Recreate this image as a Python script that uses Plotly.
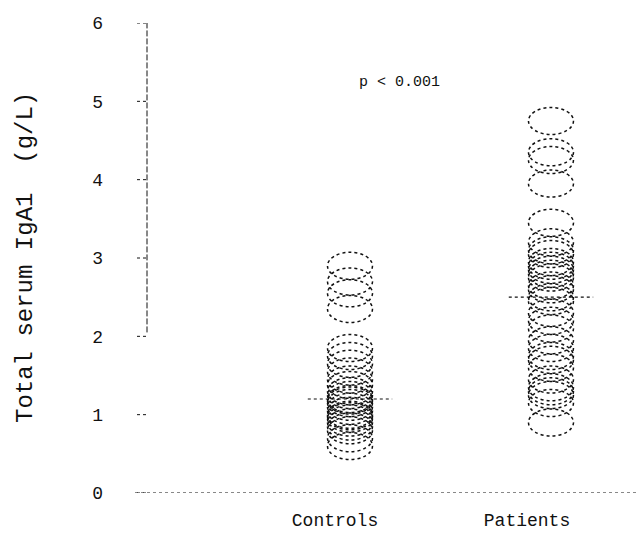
import plotly.graph_objects as go
import numpy as np

# Total serum IgA1 (g/L) per subject
groups = ["Controls", "Patients"]
controls = [2.9, 2.7, 2.55, 2.35, 1.85, 1.75, 1.65, 1.55, 1.45, 1.38, 1.3, 1.25,
            1.2, 1.18, 1.15, 1.1, 1.05, 1.0, 0.98, 0.95, 0.9, 0.85, 0.8, 0.7, 0.6]
patients = [4.75, 4.35, 4.25, 3.95, 3.45, 3.2, 3.1, 3.05, 2.95, 2.9, 2.85, 2.8,
            2.75, 2.65, 2.6, 2.5, 2.45, 2.3, 2.2, 2.1, 1.95, 1.85, 1.75, 1.7,
            1.6, 1.45, 1.35, 1.3, 1.25, 1.15, 0.9]
y_ticks = [0, 1, 2, 3, 4, 5, 6]
p_text = "p < 0.001"

FONT = "Liberation Mono, Courier New, monospace"
INK = "#111111"

# layout geometry (pixels)
W, H = 639, 539
ML, MR, MT, MB = 147, 2, 23, 46
plot_w = W - ML - MR
x_lo, x_hi = -0.01, 2.428
px_per_x = plot_w / (x_hi - x_lo)
px_per_y = (H - MT - MB) / 6.0

ell_rx = 22.5 / px_per_x
ell_ry = 13.5 / px_per_y
med_half = 0.21

fig = go.Figure()
# invisible trace to establish the axes
fig.add_trace(go.Scatter(x=[x_lo, x_hi], y=[0, 6], mode="markers",
                         marker=dict(opacity=0), hoverinfo="skip", showlegend=False))

shapes = []
for gx, vals in zip([1, 2], [controls, patients]):
    for v in vals:
        shapes.append(dict(type="circle", xref="x", yref="y",
                           x0=gx - ell_rx, x1=gx + ell_rx,
                           y0=v - ell_ry, y1=v + ell_ry,
                           line=dict(color=INK, width=1.5, dash="dot")))
    med = float(np.median(vals))
    shapes.append(dict(type="line", xref="x", yref="y",
                       x0=gx - med_half, x1=gx + med_half, y0=med, y1=med,
                       line=dict(color=INK, width=1.2, dash="dot")))

# y axis line (upper part) and dotted baseline
shapes.append(dict(type="line", xref="paper", yref="y", x0=0, x1=0, y0=2.05, y1=6,
                   line=dict(color=INK, width=1, dash="6px,2px")))
shapes.append(dict(type="line", xref="paper", yref="y", x0=-12 / plot_w, x1=1, y0=0, y1=0,
                   line=dict(color=INK, width=1, dash="dot")))
for t in y_ticks:
    shapes.append(dict(type="line", xref="paper", yref="y", x0=-10 / plot_w, x1=0, y0=t, y1=t,
                       line=dict(color=INK, width=1, dash="dot")))

label_x = [1 - 15 / px_per_x, 2 - 24 / px_per_x]

fig.update_layout(
    width=W, height=H,
    margin=dict(l=ML, r=MR, t=MT, b=MB),
    paper_bgcolor="white", plot_bgcolor="white",
    shapes=shapes,
    showlegend=False,
    xaxis=dict(range=[x_lo, x_hi], showgrid=False, zeroline=False, showline=False,
               tickvals=label_x, ticktext=groups, ticks="",
               ticklabelstandoff=14,
               tickfont=dict(family=FONT, size=18, color=INK)),
    yaxis=dict(range=[0, 6], showgrid=False, zeroline=False, showline=False,
               tickvals=y_ticks, ticktext=[str(t) for t in y_ticks], ticks="",
               ticklabelstandoff=43,
               tickfont=dict(family=FONT, size=18, color=INK)),
    annotations=[
        dict(text="Total serum IgA1  (g/L)", xref="paper", yref="paper",
             x=(25 - ML) / plot_w, y=0.5, xanchor="center", yanchor="middle",
             textangle=-90, showarrow=False,
             font=dict(family=FONT, size=24, color=INK)),
        dict(text=p_text, xref="x", yref="y", x=(399 - ML) / px_per_x + x_lo,
             y=(H - MB - 82) / px_per_y, xanchor="center", yanchor="middle",
             showarrow=False, font=dict(family=FONT, size=15, color=INK)),
    ],
)

fig.write_html("out.html")
